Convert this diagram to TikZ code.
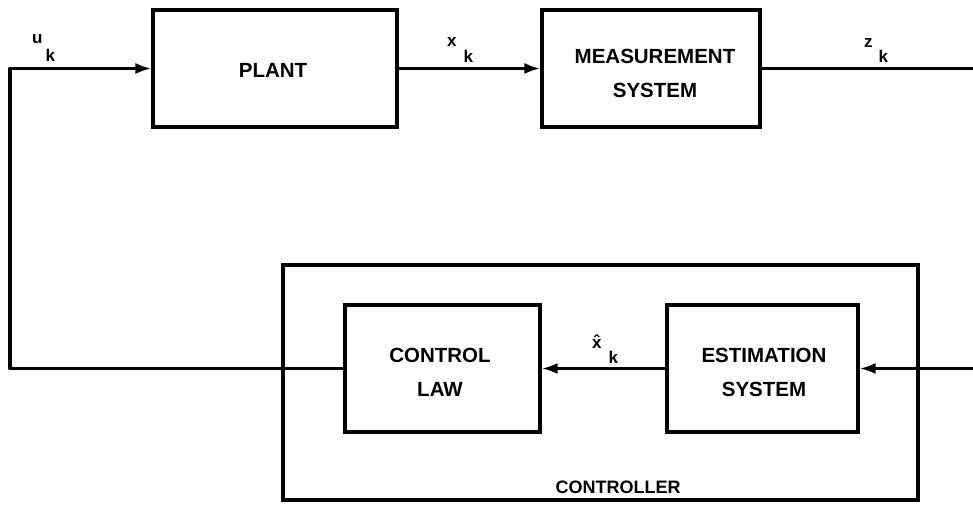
\documentclass[tikz,border=0pt]{standalone}
\usepackage{fontspec}
\setmainfont{Liberation Sans}
\usetikzlibrary{arrows.meta}
\tikzset{
  blk/.style={draw, line width=3.1pt, rectangle, inner sep=0pt},
  txt/.style={align=center, inner sep=0pt, font=\bfseries\fontsize{20.5}{34}\selectfont},
  wire/.style={line width=3.1pt, line join=round},
  arr/.style={wire, -{Latex[length=16pt,width=11pt]}},
  lbl/.style={inner sep=0pt, font=\bfseries\fontsize{17}{17}\selectfont},
}
\begin{document}
\begin{tikzpicture}[x=1pt,y=-1pt]
\useasboundingbox (0,0) rectangle (973,505);
% controller frame
\node[blk, minimum width=635pt, minimum height=235pt] (ctrl) at (600.5,382.5) {};
\node[txt, font=\bfseries\fontsize{18}{18}\selectfont] (ctrltxt) at (618,487) {CONTROLLER};
% blocks
\node[blk, minimum width=244pt, minimum height=117pt] (plant) at (275,68.5) {};
\node[blk, minimum width=218pt, minimum height=117pt] (meas) at (651,68.5) {};
\node[blk, minimum width=195pt, minimum height=127pt] (law) at (442.5,368.5) {};
\node[blk, minimum width=191pt, minimum height=127pt] (est) at (762.5,368.5) {};
\node[txt] (plantT) at (273,70) {PLANT};
\node[txt] (measT) at (655,73) {MEASUREMENT\\SYSTEM};
\node[txt] (lawT) at (440,372) {CONTROL\\LAW};
\node[txt] (estT) at (764,372) {ESTIMATION\\SYSTEM};
% coordinates
\coordinate (cl) at (10,368.5);
\coordinate (ct) at (10,68.5);
\coordinate (zout) at (973,68.5);
\coordinate (zin) at (973,368.5);
% connectors
\draw[arr] (law.west) -- (cl) -- (ct) -- (plant.west);
\draw[arr] (plant.east) -- (meas.west);
\draw[wire] (meas.east) -- (zout);
\draw[arr] (zin) -- (est.east);
\draw[arr] (est.west) -- (law.east);
% labels
\node[lbl, anchor=base west] (uk) at (32,44) {u\kern3pt\raisebox{-18pt}{k}};
\node[lbl, anchor=base west] (xk) at (447,47) {x\kern7pt\raisebox{-16pt}{k}};
\node[lbl, anchor=base west] (zk) at (864,48) {z\kern6pt\raisebox{-15pt}{k}};
\node[lbl, anchor=base west] (xhk) at (592,348) {\^{x}\kern7pt\raisebox{-15pt}{k}};
\end{tikzpicture}
\end{document}
